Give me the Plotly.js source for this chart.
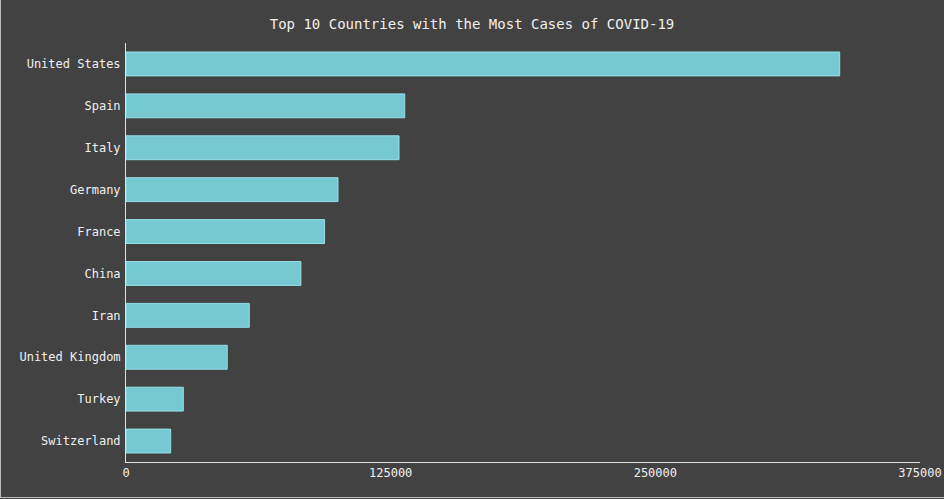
<!DOCTYPE html>
<html>
<head>
<meta charset="utf-8">
<script src="https://cdn.plot.ly/plotly-3.0.1.min.js"></script>
<style>
html,body{margin:0;padding:0;background:#424242;}
#wrap{position:relative;width:944px;height:499px;}
#chart{width:944px;height:499px;}
#frame{position:absolute;left:0;top:0;width:943px;height:497px;border-left:1px solid #bdbdbd;border-bottom:1px solid #bdbdbd;pointer-events:none;}
</style>
</head>
<body>
<div id="wrap"><div id="chart"></div><div id="frame"></div></div>
<script>
const countries = ["United States","Spain","Italy","Germany","France","China","Iran","United Kingdom","Turkey","Switzerland"];
const cases = [337072, 131646, 128948, 100123, 93790, 82602, 58226, 47806, 27069, 21100];
const xTickVals = [0, 125000, 250000, 375000];

const trace = {
  type: 'bar',
  orientation: 'h',
  y: countries,
  x: cases,
  marker: {
    color: '#76c8d1',
    line: {color: '#95e0e8', width: 1}
  },
  hoverinfo: 'x+y'
};

const layout = {
  width: 944,
  height: 499,
  paper_bgcolor: '#424242',
  plot_bgcolor: '#424242',
  font: {family: '"DejaVu Sans Mono", monospace', size: 12, color: '#f0f0f0'},
  title: {text: 'Top 10 Countries with the Most Cases of COVID-19', font: {size: 14, color: '#f0f0f0'}, x: 0.5, xanchor: 'center', y: 0.952, yanchor: 'middle'},
  margin: {l: 126, r: 24, t: 43, b: 37},
  bargap: 0.43,
  showlegend: false,
  xaxis: {
    range: [0, 375000],
    tickvals: xTickVals,
    ticktext: xTickVals.map(String),
    showgrid: false,
    zeroline: false,
    showline: true,
    linecolor: '#e0e0e0',
    linewidth: 1,
    ticks: '',
    tickfont: {size: 12, color: '#f0f0f0'}
  },
  yaxis: {
    autorange: 'reversed',
    showgrid: false,
    zeroline: false,
    showline: true,
    linecolor: '#e0e0e0',
    linewidth: 1,
    ticks: '',
    ticklabelstandoff: 2,
    tickfont: {size: 12, color: '#f0f0f0'}
  }
};

Plotly.newPlot('chart', [trace], layout, {displayModeBar: false});
</script>
</body>
</html>
